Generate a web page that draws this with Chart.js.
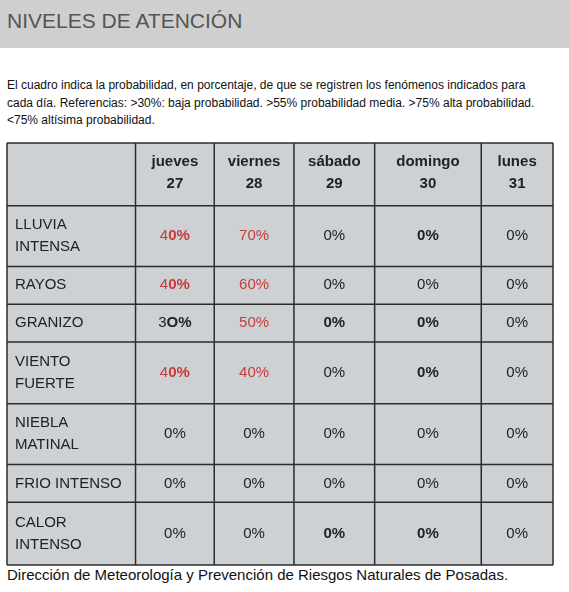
<!DOCTYPE html>
<html lang="es">
<head>
<meta charset="UTF-8" />
<title>Niveles de atención</title>
<script src="https://cdn.jsdelivr.net/npm/chart.js"></script>
<style>
  html, body { margin: 0; padding: 0; background: #fff; font-family: "Liberation Sans", Arial, sans-serif; }
  #title { position: absolute; left: 0; top: 0; width: 569px; height: 48px; background: #cfcfcf; }
  #title span { position: absolute; left: 7px; top: 9px; font-size: 21px; color: #555; }
  #intro { position: absolute; left: 7px; top: 77px; width: 540px; font-size: 12px; line-height: 17.5px; color: #111; }
  #wrap { position: absolute; left: 6px; top: 142px; width: 548px; height: 424px; }
  #foot { position: absolute; left: 7px; top: 566px; font-size: 15px; color: #111; }
</style>
</head>
<body>
<div id="title"><span>NIVELES DE ATENCIÓN</span></div>
<div id="intro">El cuadro indica la probabilidad, en porcentaje, de que se registren los fenómenos indicados para cada día. Referencias: &gt;30%: baja probabilidad. &gt;55% probabilidad media. &gt;75% alta probabilidad. &lt;75% altísima probabilidad.</div>
<div id="wrap"><canvas id="c"></canvas></div>
<div id="foot">Dirección de Meteorología y Prevención de Riesgos Naturales de Posadas.</div>
<script>
const days = ["jueves", "viernes", "sábado", "domingo", "lunes"];
const dates = ["27", "28", "29", "30", "31"];
const phenomena = [["LLUVIA", "INTENSA"], ["RAYOS"], ["GRANIZO"], ["VIENTO", "FUERTE"], ["NIEBLA", "MATINAL"], ["FRIO INTENSO"], ["CALOR", "INTENSO"]];
// one array per day, one value per phenomenon
const jueves = ["40%", "40%", "3O%", "40%", "0%", "0%", "0%"];
const viernes = ["70%", "60%", "50%", "40%", "0%", "0%", "0%"];
const sabado = ["0%", "0%", "0%", "0%", "0%", "0%", "0%"];
const domingo = ["0%", "0%", "0%", "0%", "0%", "0%", "0%"];
const lunes = ["0%", "0%", "0%", "0%", "0%", "0%", "0%"];
const series = [jueves, viernes, sabado, domingo, lunes];

// table geometry in scale units
const colEdges = [0, 129, 208, 288, 369, 476, 548];
const rowEdges = [0, 63, 124, 162, 200, 262, 323, 361, 424];
// "row,col": number of trailing characters set in bold
const boldCells = { "0,0": 2, "1,0": 2, "2,0": 2, "3,0": 2, "0,3": 9, "2,2": 9, "2,3": 9, "3,3": 9, "6,2": 9, "6,3": 9 };
const FONT = "15px 'Liberation Sans', Arial";

const tablePlugin = {
  id: "table",
  afterDraw(chart) {
    const { ctx, scales: { x, y } } = chart;
    const X = (v) => x.getPixelForValue(v), Y = (v) => y.getPixelForValue(v);
    ctx.save();
    ctx.fillStyle = "#cdd1d4";
    ctx.fillRect(X(0), Y(0), X(548) - X(0), Y(424) - Y(0));
    ctx.strokeStyle = "#2b2b2b";
    ctx.lineWidth = 1.5;
    colEdges.forEach((c) => { ctx.beginPath(); ctx.moveTo(X(c), Y(0)); ctx.lineTo(X(c), Y(424)); ctx.stroke(); });
    rowEdges.forEach((r) => { ctx.beginPath(); ctx.moveTo(X(0), Y(r)); ctx.lineTo(X(548), Y(r)); ctx.stroke(); });
    ctx.textBaseline = "middle";
    ctx.textAlign = "center";
    ctx.fillStyle = "#222";
    ctx.font = "bold " + FONT;
    days.forEach((d, i) => {
      const cx = (X(colEdges[i + 1]) + X(colEdges[i + 2])) / 2;
      ctx.fillText(d, cx, Y(19));
      ctx.fillText(dates[i], cx, Y(41));
    });
    phenomena.forEach((lines, r) => {
      const top = Y(rowEdges[r + 1]), bot = Y(rowEdges[r + 2]), cy = (top + bot) / 2;
      ctx.textAlign = "left";
      ctx.fillStyle = "#222";
      ctx.font = FONT;
      lines.forEach((t, k) => ctx.fillText(t, X(8), cy + (k - (lines.length - 1) / 2) * 22));
      series.forEach((vals, i) => {
        const v = vals[r];
        const cx = (X(colEdges[i + 1]) + X(colEdges[i + 2])) / 2;
        const nb = Math.min(boldCells[r + "," + i] || 0, v.length);
        const plain = v.slice(0, v.length - nb), bold = v.slice(v.length - nb);
        ctx.font = FONT; const w1 = ctx.measureText(plain).width;
        ctx.font = "bold " + FONT; const w2 = ctx.measureText(bold).width;
        let sx = cx - (w1 + w2) / 2;
        ctx.fillStyle = parseInt(v) >= 30 ? "#c93a3a" : "#222";
        ctx.font = FONT; ctx.fillText(plain, sx, cy);
        ctx.font = "bold " + FONT; ctx.fillText(bold, sx + w1, cy);
      });
    });
    ctx.restore();
  }
};

new Chart(document.getElementById("c"), {
  type: "scatter",
  data: { datasets: [{ data: [] }] },
  options: {
    responsive: true,
    maintainAspectRatio: false,
    animation: false,
    layout: { padding: 1 },
    plugins: { legend: { display: false }, tooltip: { enabled: false } },
    scales: {
      x: { type: "linear", min: 0, max: 548, display: false },
      y: { type: "linear", min: 0, max: 424, reverse: true, display: false }
    }
  },
  plugins: [tablePlugin]
});
</script>
</body>
</html>
